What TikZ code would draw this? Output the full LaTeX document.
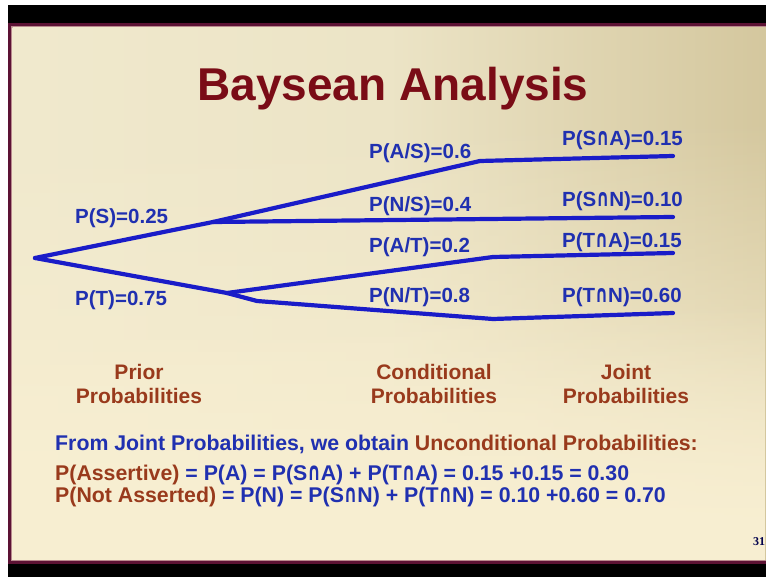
\documentclass[tikz,border=0pt]{standalone}
\usepackage{fontspec}
\setmainfont{Liberation Sans}
\newfontfamily\pagenumfont{Liberation Serif}
\newfontfamily\capsymfont{DejaVu Sans}
\usetikzlibrary{fadings}

\definecolor{slidelight}{HTML}{F0E9CD}
\definecolor{slidetan}{HTML}{D4C79E}
\definecolor{slidecream}{HTML}{F8EFD2}
\definecolor{framemaroon}{HTML}{5C1234}
\definecolor{framepink}{HTML}{B98A8E}
\definecolor{titlered}{HTML}{7A0C16}
\definecolor{treeblue}{HTML}{1A1CC8}
\definecolor{txtblue}{HTML}{2030B0}
\definecolor{txtbrown}{HTML}{993A1C}

% intersection sign raised to cap height
\newcommand{\capcap}{{\capsymfont\scalebox{0.78}[1.18]{∩}}}

\tikzfading[name=fadebottom, top color=transparent!100, bottom color=transparent!0]

\tikzset{
  branch/.style={draw=treeblue, line width=4.2pt, line join=round, line cap=round},
  problabel/.style={font=\fontsize{20.5}{24}\selectfont\bfseries, text=txtblue,
    inner sep=0pt, anchor=base west},
  colhead/.style={font=\fontsize{21}{24}\selectfont\bfseries, text=txtbrown,
    inner sep=0pt, anchor=base},
  bodyline/.style={font=\fontsize{21.3}{24}\selectfont\bfseries, text=txtblue,
    inner sep=0pt, anchor=base west},
}

\begin{document}
\begin{tikzpicture}[x=1pt, y=-1pt]
  \useasboundingbox (0,0) rectangle (766,577);

  % screen surround and slide frame
  \fill[white] (0,0) rectangle (766,577);
  \fill[black] (8,5) rectangle (766,577);
  \fill[framemaroon] (8,23) rectangle (766,564);
  \fill[framepink] (11,26) rectangle (766,561);
  \shade[left color=slidelight, right color=slidetan, middle color=slidelight!85!slidetan]
    (12.5,27.5) rectangle (766,559.5);
  \fill[slidecream, path fading=fadebottom] (12.5,120) rectangle (766,559.5);
  \fill[slidecream, path fading=fadebottom] (12.5,300) rectangle (766,559.5);

  % title
  \node[font=\fontsize{46}{50}\selectfont\bfseries, text=titlered, inner sep=0pt, anchor=base]
    (title) at (393,101) {Baysean Analysis};

  % tree points
  \coordinate (root) at (35,258);
  \coordinate (sj) at (213,222);
  \coordinate (tj) at (227,293);
  \coordinate (sabend) at (480,161);
  \coordinate (saend) at (673,156);
  \coordinate (snend) at (673,217);
  \coordinate (tabend) at (493,257);
  \coordinate (taend) at (673,253);
  \coordinate (tnkink) at (257,301);
  \coordinate (tnbend) at (493,319);
  \coordinate (tnend) at (673,313);

  % branches
  \draw[branch] (root) -- (sj) -- (sabend) -- (saend);
  \draw[branch] (sj) -- (snend);
  \draw[branch] (root) -- (tj) -- (tabend) -- (taend);
  \draw[branch] (tj) -- (tnkink) -- (tnbend) -- (tnend);

  % prior probabilities
  \node[problabel] (ps) at (75,224) {P(S)=0.25};
  \node[problabel] (pt) at (75,306) {P(T)=0.75};

  % conditional probabilities
  \node[problabel] (pas) at (369,159) {P(A/S)=0.6};
  \node[problabel] (pns) at (369,212) {P(N/S)=0.4};
  \node[problabel] (pat) at (369,253) {P(A/T)=0.2};
  \node[problabel] (pnt) at (369,303) {P(N/T)=0.8};

  % joint probabilities
  \node[problabel] (jsa) at (562,146) {P(S\capcap A)=0.15};
  \node[problabel] (jsn) at (562,207) {P(S\capcap N)=0.10};
  \node[problabel] (jta) at (562,248) {P(T\capcap A)=0.15};
  \node[problabel] (jtn) at (562,303) {P(T\capcap N)=0.60};

  % column headings
  \node[colhead] (priorA) at (139,380) {Prior};
  \node[colhead] (priorB) at (139,403) {Probabilities};
  \node[colhead] (condA) at (434,380) {Conditional};
  \node[colhead] (condB) at (434,403) {Probabilities};
  \node[colhead] (jointA) at (626,380) {Joint};
  \node[colhead] (jointB) at (626,403) {Probabilities};

  % unconditional probabilities
  \node[bodyline] (from) at (55,450)
    {From Joint Probabilities, we obtain \textcolor{txtbrown}{Unconditional Probabilities:}};
  \node[bodyline] (assert) at (55,480)
    {\textcolor{txtbrown}{P(Assertive)} = P(A) = P(S\capcap A) + P(T\capcap A) = 0.15 +0.15 = 0.30};
  \node[bodyline] (notassert) at (55,502)
    {\textcolor{txtbrown}{P(Not Asserted)} = P(N) = P(S\capcap N) + P(T\capcap N) = 0.10 +0.60 = 0.70};

  % slide number
  \node[font=\pagenumfont\fontsize{12}{14}\selectfont\bfseries, text=black!70!blue,
    inner sep=0pt, anchor=base west] (pagenum) at (753,545) {31};
\end{tikzpicture}
\end{document}
